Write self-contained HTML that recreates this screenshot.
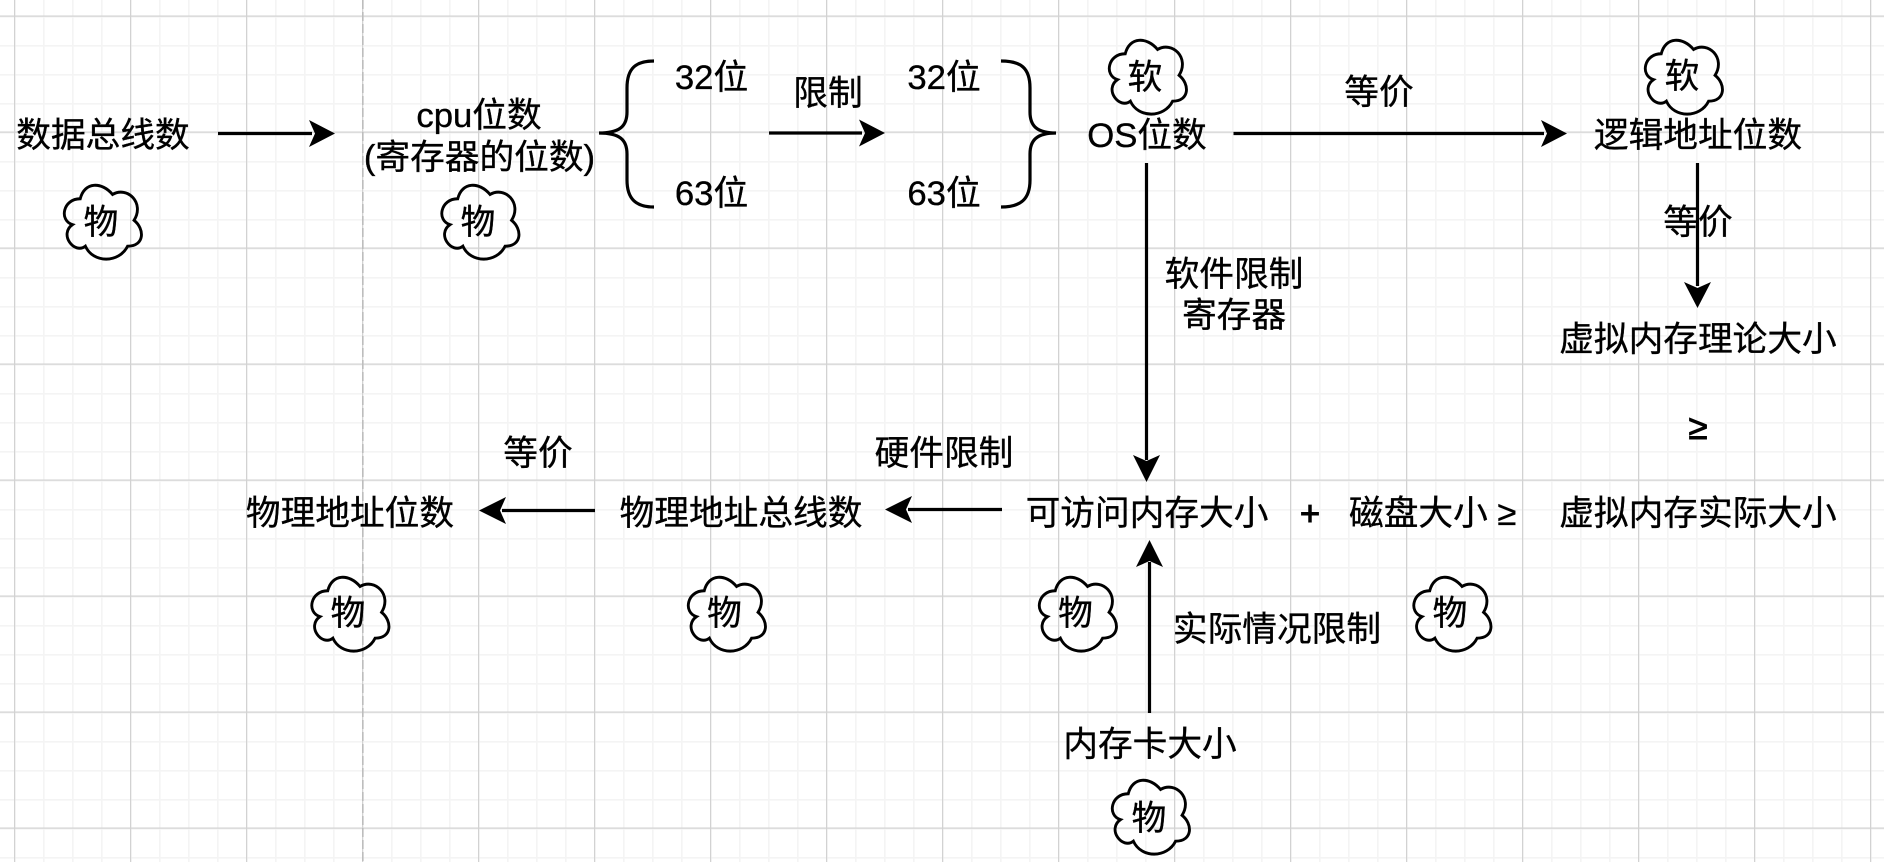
<!DOCTYPE html>
<html><head><meta charset="utf-8"><style>
html,body{margin:0;padding:0;background:#fff;width:1884px;height:862px;overflow:hidden}
svg{display:block}
text{font-family:"Liberation Sans","Noto Sans CJK SC",sans-serif;font-size:34.7px;fill:#000;text-anchor:middle;stroke:#000;stroke-width:.35px}
</style></head><body>
<svg width="1884" height="862" viewBox="0 0 1884 862" xmlns="http://www.w3.org/2000/svg">
<defs>
<pattern id="mi" width="29" height="29" patternUnits="userSpaceOnUse" x="14" y="16"><rect width="29" height="1.6" fill="#f4f4f4"/><rect width="1.6" height="29" fill="#f4f4f4"/></pattern>
<pattern id="ma" width="116" height="116" patternUnits="userSpaceOnUse" x="14" y="15.5"><rect width="116" height="1.2" fill="#d2d2d2"/><rect width="1.2" height="116" fill="#d2d2d2"/></pattern>
<path id="c" transform="translate(1.2 1.2) scale(.957 .98)" d="M22.5 22C4.5 22 0 44 14.4 48.4C0 58.1 16.2 79.2 27.9 70.4C36 88 63 88 72 70.4C90 70.4 90 52.8 78.75 44C90 26.4 72 8.8 56.25 17.6C45 4.4 27 4.4 22.5 22Z" fill="none" stroke="#000" stroke-width="3"/>
</defs>
<rect width="1884" height="862" fill="#fff"/>
<rect width="1884" height="862" fill="url(#mi)"/>
<rect width="1884" height="862" fill="url(#ma)"/>
<line x1="362.8" y1="0" x2="362.8" y2="862" stroke="#bdbdbd" stroke-width="1.6" stroke-dasharray="9 3"/>

<use href="#c" x="57.5" y="176"/>
<use href="#c" x="435" y="176"/>
<use href="#c" x="1102.5" y="31"/>
<use href="#c" x="1638.5" y="31"/>
<use href="#c" x="305" y="568"/>
<use href="#c" x="681.5" y="568"/>
<use href="#c" x="1032.5" y="568"/>
<use href="#c" x="1407" y="568"/>
<use href="#c" x="1105.5" y="771"/>

<g fill="none" stroke="#000" stroke-width="3.2">
<path d="M218 133.5H312"/>
<path d="M769 133H862"/>
<path d="M1233.5 133.5H1544"/>
<path d="M1146.5 163V460"/>
<path d="M1697.5 163V286"/>
<path d="M1149.5 713V562"/>
<path d="M1002 509.5H908"/>
<path d="M595 510.5H502"/>
<path d="M654 61C636 61 627 68 627 88V112C627 126 620 133 599 133C620 133 627 140 627 154V180C627 199 636 207 654 207"/>
<path d="M1001 61C1021 61 1030 68 1030 88V112C1030 126 1037 133 1056 133C1037 133 1030 140 1030 154V180C1030 199 1021 207 1001 207"/>
</g>
<g fill="#000">
<path d="M335 133.5L309 147L315 133.5L309 120Z"/>
<path d="M885 133L859 146.5L865 133L859 119.5Z"/>
<path d="M1567 133.5L1541 147L1547 133.5L1541 120Z"/>
<path d="M1146.5 482L1133 455L1146.5 461L1160 455Z"/>
<path d="M1697.5 308L1684 282L1697.5 288L1711 282Z"/>
<path d="M1149.5 540L1136 567L1149.5 561L1163 567Z"/>
<path d="M885 509.5L912 496L906 509.5L912 523Z"/>
<path d="M479 510.5L506 497L500 510.5L506 524Z"/>
</g>

<text x="103" y="147">数据总线数</text>
<text x="479" y="127">cpu位数</text>
<text x="479.5" y="169">(寄存器的位数)</text>
<text x="101" y="234">物</text>
<text x="478" y="234">物</text>
<text x="711.5" y="89">32位</text>
<text x="711.5" y="205">63位</text>
<text x="828" y="105">限制</text>
<text x="944" y="89">32位</text>
<text x="944" y="205">63位</text>
<text x="1145" y="89">软</text>
<text x="1147" y="147">OS位数</text>
<text x="1379" y="104">等价</text>
<text x="1682" y="88">软</text>
<text x="1698" y="147">逻辑地址位数</text>
<text x="1698" y="234">等价</text>
<text x="1698" y="351">虚拟内存理论大小</text>
<text x="1234" y="286">软件限制</text>
<text x="1234" y="327">寄存器</text>
<text x="1698" y="439" style="stroke-width:1px">≥</text>
<text x="538" y="465">等价</text>
<text x="944" y="465">硬件限制</text>
<text x="350" y="525">物理地址位数</text>
<text x="741" y="525">物理地址总线数</text>
<text x="1147" y="525">可访问内存大小</text>
<text x="1310" y="525" style="stroke-width:1px">+</text>
<text x="1349" y="525" style="text-anchor:start">磁盘大小 ≥</text>
<text x="1698" y="525">虚拟内存实际大小</text>
<text x="348" y="625">物</text>
<text x="724.5" y="625">物</text>
<text x="1075.5" y="625">物</text>
<text x="1450" y="625">物</text>
<text x="1277" y="641">实际情况限制</text>
<text x="1150" y="756">内存卡大小</text>
<text x="1149" y="830">物</text>
</svg>
</body></html>
